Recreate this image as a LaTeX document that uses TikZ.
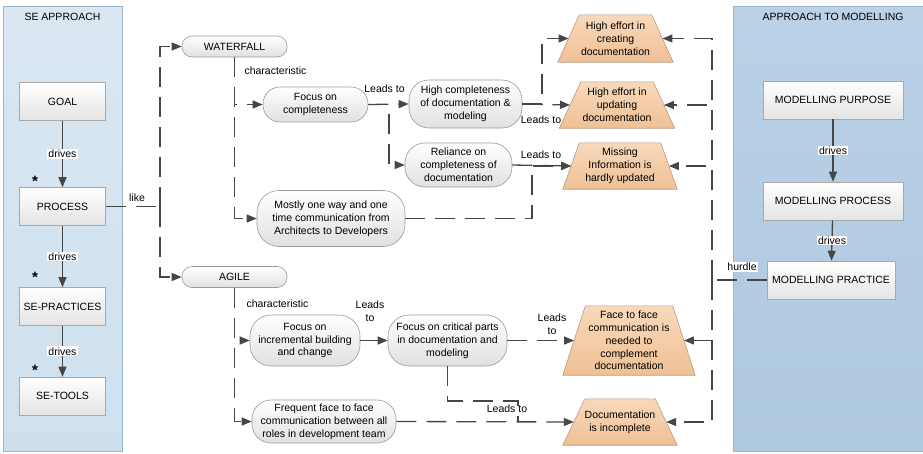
\documentclass[tikz,border=0pt]{standalone}
\usepackage{fontspec}
\setmainfont{Liberation Sans}
\usetikzlibrary{arrows.meta,calc}

\definecolor{lineC}{HTML}{464646}
\definecolor{boxLine}{HTML}{A9A9A9}
\definecolor{boxBot}{HTML}{E4E4E4}
\definecolor{pillLine}{HTML}{9A9A9A}
\definecolor{pillBot}{HTML}{E0E0E0}
\definecolor{trapTop}{HTML}{F8D9BB}
\definecolor{trapBot}{HTML}{EFC095}
\definecolor{trapLine}{HTML}{B99A7E}
\definecolor{leftTop}{HTML}{DAE7F2}
\definecolor{leftBot}{HTML}{CEE0EE}
\definecolor{rightTop}{HTML}{BAD1E6}
\definecolor{rightBot}{HTML}{AFC9E0}
\definecolor{panelLine}{HTML}{9DB5C9}

% trapezoid result node: name, cx, cy, top width, bottom width, height, text
\newcommand\trapz[7]{%
  \pgfmathsetmacro\trapw{(#4+#5)/2}%
  \pgfmathsetmacro\trapd{(#5-#4)/4}%
  \node[minimum width=\trapw pt, minimum height=#6pt, inner sep=0pt] (#1) at (#2,#3) {};
  \path[draw=trapLine, line width=0.6pt, top color=trapTop, bottom color=trapBot]
    ([xshift=-\trapd pt]#1.south west) -- ([xshift=\trapd pt]#1.north west)
    -- ([xshift=-\trapd pt]#1.north east) -- ([xshift=\trapd pt]#1.south east) -- cycle;
  \node[align=center, inner sep=0pt] at (#1.center) {#7};
}

\begin{document}
\begin{tikzpicture}[x=1pt,y=-1pt,
  font=\fontsize{10.5}{12.8}\selectfont,
  tip/.style={-{Triangle[length=10pt,width=8pt]}},
  conn/.style={draw=lineC, line width=1.3pt, dash pattern=on 20pt off 10pt, tip},
  plain/.style={draw=lineC, line width=1.3pt, dash pattern=on 20pt off 10pt},
  solidarrow/.style={draw=lineC, line width=1.3pt, tip},
  box/.style={draw=boxLine, line width=0.6pt, top color=white, bottom color=boxBot,
    minimum width=86pt, minimum height=38pt, inner sep=2pt},
  pill/.style={draw=pillLine, line width=0.6pt, top color=white, bottom color=pillBot,
    align=center, inner sep=1pt, rounded corners=17pt},
  lbl/.style={fill=white, inner sep=1pt},
  starmark/.style={font=\fontsize{15}{15}\selectfont\bfseries, inner sep=0pt},
  panel/.style={draw=panelLine, line width=0.6pt, anchor=north west, inner sep=0pt},
]
\useasboundingbox (0,0) rectangle (923,453);

% side panels
\node[panel, top color=leftTop, bottom color=leftBot, minimum width=119pt, minimum height=445pt] (sepanel) at (3,6) {};
\node[panel, top color=rightTop, bottom color=rightBot, minimum width=200pt, minimum height=445pt] (mpanel) at (733,6) {};
\node (setitle) at (62.5,17) {SE APPROACH};
\node (mtitle) at (833,17) {APPROACH TO MODELLING};

% SE approach chain
\node[box] (goal) at (62.5,101.5) {GOAL};
\node[box] (process) at (62.5,206.5) {PROCESS};
\node[box] (sepract) at (62.5,306.5) {SE-PRACTICES};
\node[box] (setools) at (62.5,396) {SE-TOOLS};
\draw[solidarrow] (goal) -- node[lbl] {drives} (process);
\draw[solidarrow] (process) -- node[lbl] {drives} (sepract);
\draw[solidarrow] (sepract) -- node[lbl] {drives} (setools);
\node[starmark] (star1) at (35,181) {*};
\node[starmark] (star2) at (35,277) {*};
\node[starmark] (star3) at (35,370) {*};

% modelling chain
\node[box, minimum width=140pt] (mpurp) at (833,100) {MODELLING PURPOSE};
\node[box, minimum width=140pt] (mproc) at (833,201) {MODELLING PROCESS};
\node[box, minimum width=128pt] (mprac) at (831,280) {MODELLING PRACTICE};
\draw[solidarrow] (mpurp) -- node[lbl] {drives} (mproc);
\draw[solidarrow] (mproc) -- node[lbl] {drives} (mprac);

% approaches
\node[pill, minimum width=105pt, minimum height=21pt, rounded corners=10pt] (waterfall) at (234.5,46.5) {WATERFALL};
\node[pill, minimum width=105pt, minimum height=21pt, rounded corners=10pt] (agile) at (234.5,277) {AGILE};

% waterfall characteristics
\node[pill, minimum width=105pt, minimum height=35pt] (fcomp) at (315.5,104.5) {Focus on\\completeness};
\node[pill, minimum width=113pt, minimum height=48pt, rounded corners=20pt] (hcomp) at (465.5,104) {High completeness\\of documentation \&\\modeling};
\node[pill, minimum width=107pt, minimum height=44pt, rounded corners=20pt] (rel) at (458.5,165) {Reliance on\\completeness of\\documentation};
\node[pill, minimum width=148pt, minimum height=56pt, rounded corners=22pt] (mostly) at (331,218.5) {Mostly one way and one\\time communication from\\Architects to Developers};

% agile characteristics
\node[pill, minimum width=110pt, minimum height=51pt, rounded corners=21pt] (finc) at (305,340.5) {Focus on\\incremental building\\and change};
\node[pill, minimum width=119pt, minimum height=51pt, rounded corners=21pt] (fcrit) at (447.5,340.5) {Focus on critical parts\\in documentation and\\modeling};
\node[pill, minimum width=144pt, minimum height=43pt, rounded corners=19pt] (freq) at (324,421.5) {Frequent face to face\\communication between all\\roles in development team};

% consequences
\trapz{t1}{615.5}{38.5}{72}{115}{47}{High effort in\\creating\\documentation}
\trapz{t2}{617}{105}{72}{115}{46}{High effort in\\updating\\documentation}
\trapz{t3}{620}{166}{81}{114}{46}{Missing\\Information is\\hardly updated}
\trapz{t4}{629}{340.5}{87}{132}{69}{Face to face\\communication is\\needed to\\complement\\documentation}
\trapz{t5}{620}{422}{70}{114}{46}{Documentation\\is incomplete}

% junction points
\coordinate (likej) at (160,206.5);
\coordinate (fcompj) at (389,104.5);
\coordinate (hcompj) at (542,104);
\coordinate (mostlyj) at (532,166);
\coordinate (fcritj) at (518,401);
\coordinate (hurdlej) at (712,280);

% "like"
\draw[plain] (process.east) -- (likej);
\draw[conn] (likej) |- (waterfall.west);
\draw[conn] (likej) |- (agile.west);
\node (like) at (137,198) {like};

% characteristic branches
\draw[conn] (waterfall.south) |- (fcomp.west);
\draw[conn] (waterfall.south) |- (mostly.west);
\node[anchor=west] (wchar) at (241,71) {characteristic};
\draw[conn] (agile.south) |- (finc.west);
\draw[conn] (agile.south) |- (freq.west);
\node[anchor=west] (achar) at (243,304) {characteristic};

% waterfall leads to
\draw[conn] (fcomp.east) -- (hcomp.west);
\draw[conn] (fcomp.east) -- (fcompj) |- (rel.west);
\node (lt1) at (384.5,89) {Leads to};
\draw[conn] (hcomp.east) -- (t2.west);
\draw[conn] (hcomp.east) -- (hcompj) |- (t1.west);
\node (lt2) at (541,120) {Leads to};
\draw[conn] (rel.east) -- (t3.west);
\node (lt3) at (541,155) {Leads to};
\draw[conn] (mostly.east) -| (mostlyj) -- (t3.west);

% agile leads to
\draw[conn] (finc.east) -- (fcrit.west);
\node[align=center] (lt4) at (370,311) {Leads\\to};
\draw[conn] (fcrit.east) -- (t4.west);
\node[align=center] (lt5) at (552,324) {Leads\\to};
\draw[conn] (freq.east) -- (t5.west);
\draw[plain] (fcrit.south) |- (fcritj) -- (fcritj |- t5.west);
\node (lt6) at (507,409) {Leads to};

% hurdle
\draw[plain] (mprac.west) -- (hurdlej);
\node[lbl] (hurdle) at (742,267) {hurdle};
\draw[conn] (hurdlej) |- (t1.east);
\draw[conn] (hurdlej) |- (t2.east);
\draw[conn] (hurdlej) |- (t3.east);
\draw[conn] (hurdlej) |- (t4.east);
\draw[conn] (hurdlej) |- (t5.east);
\end{tikzpicture}
\end{document}
